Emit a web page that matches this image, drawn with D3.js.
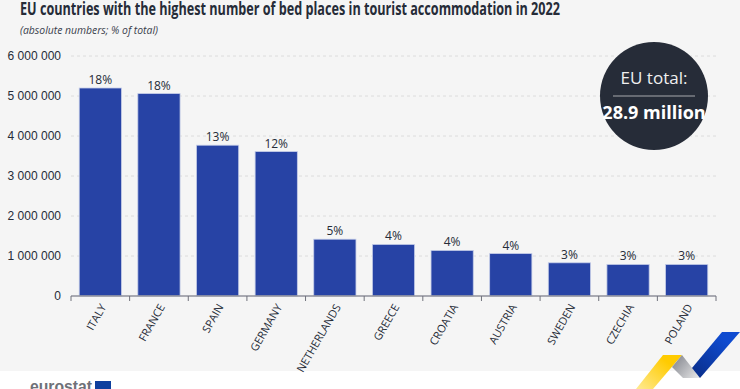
<!DOCTYPE html>
<html>
<head>
<meta charset="utf-8">
<script src="https://cdn.jsdelivr.net/npm/d3@7"></script>
<style>
  html, body { margin: 0; padding: 0; background: #fff; }
  svg { display: block; }
  text { font-family: "Liberation Sans Narrow", "Open Sans", sans-serif; }
</style>
</head>
<body>
<div id="chart"></div>
<script>
"use strict";

const countries = ["ITALY", "FRANCE", "SPAIN", "GERMANY", "NETHERLANDS", "GREECE", "CROATIA", "AUSTRIA", "SWEDEN", "CZECHIA", "POLAND"];
const bedPlaces = [5200000, 5060000, 3770000, 3610000, 1420000, 1290000, 1140000, 1060000, 830000, 790000, 790000];
const shares = ["18%", "18%", "13%", "12%", "5%", "4%", "4%", "4%", "3%", "3%", "3%"];
const yTicks = [0, 1000000, 2000000, 3000000, 4000000, 5000000, 6000000];

const svgWidth = 740,
    svgHeight = 389;

const margin = { top: 56, right: 24, bottom: 93, left: 71 },
    width = svgWidth - margin.left - margin.right,
    height = svgHeight - margin.top - margin.bottom;

const svg = d3.select("#chart").append("svg")
    .attr("width", svgWidth)
    .attr("height", svgHeight);

// grey panel
svg.append("rect")
    .attr("width", svgWidth)
    .attr("height", 371)
    .attr("fill", "#f5f5f5");

svg.append("text")
    .attr("x", 20).attr("y", 15)
    .attr("font-size", 17).attr("font-weight", 700)
    .attr("fill", "#262c38")
    .attr("textLength", 540).attr("lengthAdjust", "spacingAndGlyphs")
    .text("EU countries with the highest number of bed places in tourist accommodation in 2022");

svg.append("text")
    .attr("x", 20).attr("y", 34)
    .attr("font-size", 11).attr("font-style", "italic")
    .attr("fill", "#3a404c")
    .attr("textLength", 138).attr("lengthAdjust", "spacingAndGlyphs")
    .text("(absolute numbers; % of total)");

const x = d3.scaleBand().domain(countries).range([0, width]).paddingInner(0.28).paddingOuter(0.14);
const y = d3.scaleLinear().domain([0, 6000000]).range([height, 0]);

const plot = svg.append("g")
    .attr("transform", "translate(" + margin.left + "," + margin.top + ")");

// dashed grid
plot.append("g").selectAll("line")
    .data(yTicks.filter(d => d > 0))
    .enter().append("line")
    .attr("x1", 0).attr("x2", width)
    .attr("y1", d => y(d)).attr("y2", d => y(d))
    .attr("stroke", "#dcdcdc").attr("stroke-dasharray", "3,3");

const fmt = d => d3.format(",")(d).replace(/,/g, " ");

const yAxis = plot.append("g")
    .call(d3.axisLeft(y).tickValues(yTicks).tickFormat(fmt).tickSize(0).tickPadding(10));
yAxis.select(".domain").remove();
yAxis.selectAll("text")
    .attr("font-size", 12).attr("fill", "#262c38")
    .style("font-family", "inherit");

// bars
plot.append("g").selectAll("rect")
    .data(countries)
    .enter().append("rect")
    .attr("x", d => x(d))
    .attr("y", (d, i) => y(bedPlaces[i]))
    .attr("width", x.bandwidth())
    .attr("height", (d, i) => height - y(bedPlaces[i]))
    .attr("fill", "#2743a5")
    .attr("stroke", "#c5cde8").attr("stroke-width", 0.8);

// % labels
plot.append("g").selectAll("text")
    .data(countries)
    .enter().append("text")
    .attr("x", d => x(d) + x.bandwidth() / 2)
    .attr("y", (d, i) => y(bedPlaces[i]) - 4)
    .attr("text-anchor", "middle")
    .attr("font-size", 12).attr("fill", "#262c38")
    .text((d, i) => shares[i]);

// x axis, ticks sit between the bands
const xAxis = plot.append("g").attr("transform", "translate(0," + height + ")");
xAxis.append("line")
    .attr("x1", 0).attr("x2", width)
    .attr("stroke", "#8f919b").attr("stroke-width", 1.5);
xAxis.selectAll(".tk")
    .data(d3.range(countries.length + 1))
    .enter().append("line")
    .attr("class", "tk")
    .attr("x1", d => d * x.step()).attr("x2", d => d * x.step())
    .attr("y1", 0).attr("y2", 5)
    .attr("stroke", "#70727c");
xAxis.selectAll("text")
    .data(countries)
    .enter().append("text")
    .attr("transform", d => "translate(" + (x(d) + x.bandwidth() / 2 + 3) + ",9) rotate(-60)")
    .attr("text-anchor", "end")
    .attr("dy", "0.35em")
    .attr("font-size", 11).attr("fill", "#262c38")
    .text(d => d);

// EU total badge
const badge = svg.append("g").attr("transform", "translate(654,96)");
badge.append("circle").attr("r", 54).attr("fill", "#262c38");
badge.append("line").attr("x1", -41).attr("x2", 41)
    .attr("stroke", "#c8c9cc").attr("stroke-width", 0.8);
badge.append("text").attr("y", -12).attr("text-anchor", "middle")
    .attr("font-size", 17).attr("fill", "#f0f0f0").text("EU total:");
badge.append("text").attr("y", 23).attr("text-anchor", "middle")
    .attr("font-size", 18).attr("font-weight", 700).attr("fill", "#fff").text("28.9 million");

// eurostat logo
svg.append("text")
    .attr("x", 30).attr("y", 392)
    .attr("font-size", 17).attr("font-weight", 700)
    .style("font-family", "'Liberation Sans', sans-serif")
    .attr("fill", "#6f7178")
    .attr("textLength", 62).attr("lengthAdjust", "spacingAndGlyphs")
    .text("eurostat");
svg.append("rect").attr("x", 95).attr("y", 381).attr("width", 16).attr("height", 8).attr("fill", "#0e3f9e");

// corner ribbon
const defs = svg.append("defs");
const grad = (id, x1, y1, x2, y2, c1, c2) => {
    const g = defs.append("linearGradient").attr("id", id)
        .attr("gradientUnits", "userSpaceOnUse")
        .attr("x1", x1).attr("y1", y1).attr("x2", x2).attr("y2", y2);
    g.append("stop").attr("offset", "0%").attr("stop-color", c1);
    g.append("stop").attr("offset", "100%").attr("stop-color", c2);
};
grad("gYellow", 665, 360, 640, 389, "#ffcb00", "#ffe88a");
grad("gGrey", 675, 360, 700, 380, "#8d8f96", "#eeeeee");
grad("gBlue", 725, 340, 695, 375, "#0f4bd0", "#0a2f8c");
svg.append("path").attr("d", "M663,355L682,355L653,389L636,389Z").attr("fill", "url(#gYellow)");
svg.append("path").attr("d", "M682,355L700,378L683,378L672,367Z").attr("fill", "url(#gGrey)");
svg.append("path").attr("d", "M722,332L740,332L700,378L692,368Z").attr("fill", "url(#gBlue)");
</script>
</body>
</html>
